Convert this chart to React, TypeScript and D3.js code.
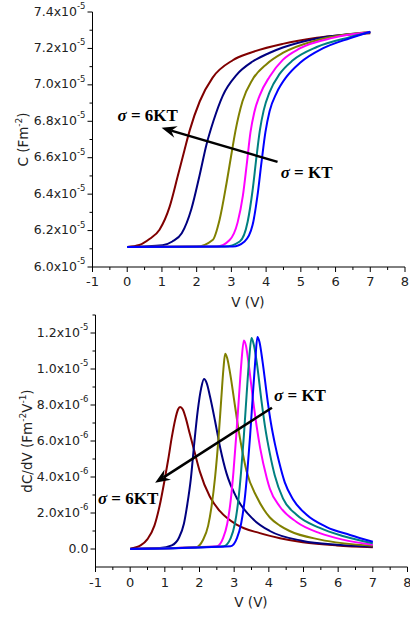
import React from "react";
import { scaleLinear, line, curveMonotoneX, range } from "d3";

// C-V curves, V in volts, C in units of 1e-5 F/m^2
const cvColors = ["#800000", "#000080", "#808000", "#ff00ff", "#008080", "#0000ff"];

const cv6kt: [number, number][] = [
  [0, 6.11], [0.35, 6.121], [0.65, 6.155], [0.93, 6.205], [1.22, 6.33], [1.45, 6.495],
  [1.65, 6.643], [1.8, 6.75], [2.09, 6.91], [2.46, 7.04], [3.04, 7.135], [3.53, 7.175],
  [4.48, 7.225], [5.46, 7.258], [7, 7.283],
];
const cv5kt: [number, number][] = [
  [0, 6.11], [1.02, 6.12], [1.3, 6.14], [1.57, 6.185], [1.85, 6.32], [2.08, 6.5],
  [2.28, 6.67], [2.48, 6.8], [2.75, 6.94], [3.15, 7.055], [3.61, 7.128], [4.09, 7.175],
  [4.48, 7.205], [5.46, 7.255], [7, 7.288],
];
const cv4kt: [number, number][] = [
  [0, 6.11], [2.0, 6.112], [2.46, 6.148], [2.66, 6.26], [2.86, 6.46], [3.01, 6.63],
  [3.12, 6.75], [3.32, 6.91], [3.61, 7.03], [4.02, 7.115], [4.48, 7.175], [5.46, 7.245],
  [7, 7.29],
];
const cv3kt: [number, number][] = [
  [0, 6.11], [2.58, 6.112], [2.95, 6.148], [3.18, 6.245], [3.33, 6.39], [3.44, 6.56],
  [3.55, 6.74], [3.66, 6.85], [3.81, 6.94], [4.1, 7.045], [4.48, 7.137], [4.97, 7.2],
  [5.92, 7.258], [7, 7.29],
];
const cv2kt: [number, number][] = [
  [0, 6.11], [2.81, 6.112], [3.24, 6.14], [3.47, 6.25], [3.61, 6.42], [3.72, 6.6],
  [3.82, 6.75], [3.93, 6.86], [4.1, 6.96], [4.39, 7.06], [4.77, 7.135], [5.46, 7.208],
  [6.41, 7.262], [7, 7.29],
];
const cv1kt: [number, number][] = [
  [0, 6.11], [3.04, 6.112], [3.38, 6.14], [3.61, 6.23], [3.75, 6.39], [3.87, 6.58],
  [3.98, 6.74], [4.1, 6.855], [4.3, 6.955], [4.59, 7.045], [4.97, 7.12], [5.63, 7.2],
  [6.41, 7.256], [7, 7.292],
];

// dC/dV curves, values in units of 1e-6
const dc6kt: [number, number][] = [
  [0, 0.02], [0.3, 0.2], [0.5, 0.55], [0.7, 1.3], [0.85, 2.4], [1.0, 3.9], [1.1, 5.0],
  [1.2, 6.2], [1.3, 7.2], [1.38, 7.75], [1.44, 7.89], [1.52, 7.75], [1.6, 7.3],
  [1.72, 6.4], [1.87, 5.3], [2.01, 4.3], [2.3, 2.9], [2.59, 2.1], [3.07, 1.35],
  [3.74, 0.88], [4.32, 0.6], [4.98, 0.38], [5.96, 0.2], [7, 0.1],
];
const dc5kt: [number, number][] = [
  [0, 0.02], [0.86, 0.05], [1.2, 0.2], [1.4, 0.6], [1.55, 1.4], [1.65, 2.5], [1.75, 3.9],
  [1.85, 5.9], [1.95, 7.7], [2.05, 8.95], [2.13, 9.44], [2.21, 9.2], [2.3, 8.5],
  [2.45, 7.1], [2.6, 5.6], [2.78, 4.2], [3.07, 2.85], [3.55, 1.65], [4.03, 1.0],
  [4.98, 0.45], [5.96, 0.24], [7, 0.14],
];
const dc4kt: [number, number][] = [
  [0, 0.0], [1.9, 0.1], [2.1, 0.5], [2.25, 1.3], [2.35, 2.4], [2.45, 4.0], [2.55, 6.2],
  [2.63, 8.4], [2.69, 10.0], [2.74, 10.85], [2.8, 10.6], [2.88, 9.8], [3.02, 8.0],
  [3.12, 6.7], [3.22, 5.6], [3.36, 4.3], [3.65, 2.9], [4.03, 1.75], [4.32, 1.3],
  [4.6, 1.0], [5.48, 0.52], [7, 0.18],
];
const dc3kt: [number, number][] = [
  [0, 0.0], [2.5, 0.15], [2.68, 0.6], [2.8, 1.4], [2.9, 2.7], [2.98, 4.3], [3.06, 6.3],
  [3.14, 8.5], [3.21, 10.4], [3.28, 11.59], [3.34, 11.3], [3.41, 10.4], [3.55, 8.2],
  [3.65, 6.8], [3.75, 5.6], [3.94, 3.95], [4.03, 3.35], [4.32, 2.35], [4.8, 1.5],
  [5.47, 0.88], [6.13, 0.52], [7, 0.24],
];
const dc2kt: [number, number][] = [
  [0, 0.0], [2.7, 0.15], [2.9, 0.6], [3.02, 1.4], [3.12, 2.7], [3.2, 4.3], [3.28, 6.3],
  [3.36, 8.6], [3.43, 10.5], [3.5, 11.72], [3.56, 11.4], [3.65, 10.4], [3.79, 8.2],
  [3.89, 6.8], [4.03, 5.3], [4.17, 4.1], [4.41, 2.8], [4.8, 1.9], [5.47, 1.17],
  [6.13, 0.72], [7, 0.32],
];
const dc1kt: [number, number][] = [
  [0, 0.0], [2.9, 0.15], [3.08, 0.6], [3.2, 1.4], [3.3, 2.7], [3.38, 4.3], [3.46, 6.3],
  [3.54, 8.6], [3.61, 10.5], [3.67, 11.78], [3.73, 11.5], [3.82, 10.4], [3.96, 8.3],
  [4.06, 7.0], [4.18, 5.8], [4.3, 4.8], [4.46, 3.7], [4.7, 2.75], [5.09, 1.9],
  [5.67, 1.22], [6.34, 0.78], [7, 0.4],
];

const cvSeries = [cv6kt, cv5kt, cv4kt, cv3kt, cv2kt, cv1kt];
const dcSeries = [dc6kt, dc5kt, dc4kt, dc3kt, dc2kt, dc1kt];

const xTicks = range(-1, 9);
const cvTicks = [6.0, 6.2, 6.4, 6.6, 6.8, 7.0, 7.2, 7.4];
const dcTicks = [0, 2, 4, 6, 8, 10, 12];

const FONT = "DejaVu Sans, sans-serif";
const SERIF = "Liberation Serif, Times New Roman, serif";

function Arrow({ x1, y1, x2, y2 }: { x1: number; y1: number; x2: number; y2: number }) {
  // line from (x1,y1) to tip (x2,y2), with stealth head
  const dx = x2 - x1, dy = y2 - y1;
  const len = Math.hypot(dx, dy);
  const ux = dx / len, uy = dy / len;
  const px = -uy, py = ux;
  const L = 15, W = 6, N = 5;
  const bx = x2 - ux * L, by = y2 - uy * L;
  const nx = x2 - ux * (L - N), ny = y2 - uy * (L - N);
  const head = `M${x2},${y2}L${bx + px * W},${by + py * W}L${nx},${ny}L${bx - px * W},${by - py * W}Z`;
  return (
    <g>
      <line x1={x1} y1={y1} x2={nx} y2={ny} stroke="#000" strokeWidth={2.5} />
      <path d={head} fill="#000" />
    </g>
  );
}

function SigmaLabel({ x, y, text }: { x: number; y: number; text: string }) {
  return (
    <text x={x} y={y} fontFamily={SERIF} fontWeight="bold" fontSize={17} fill="#000">
      <tspan fontStyle="italic">σ</tspan>
      <tspan> = {text}</tspan>
    </text>
  );
}

function Sci({ x, y, mant, exp }: { x: number; y: number; mant: string; exp?: string }) {
  return (
    <text x={x} y={y} textAnchor="end" fontFamily={FONT} fontSize={12.5} fill="#222" dominantBaseline="middle">
      {mant}
      {exp && (
        <tspan fontSize={8.5} dy={-6}>{exp}</tspan>
      )}
    </text>
  );
}

export default function App() {
  // top panel
  const x1 = scaleLinear().domain([-1, 8]).range([92.5, 405]);
  const y1 = scaleLinear().domain([6.0, 7.4]).range([267, 12]);
  // bottom panel
  const x2 = scaleLinear().domain([-1, 8]).range([95.5, 407.5]);
  const y2 = scaleLinear().domain([-1, 13]).range([567, 315]);

  const lineTop = line<[number, number]>()
    .x((d) => x1(d[0]))
    .y((d) => y1(d[1]))
    .curve(curveMonotoneX);
  const lineBot = line<[number, number]>()
    .x((d) => x2(d[0]))
    .y((d) => y2(d[1]))
    .curve(curveMonotoneX);

  const xMinor = range(-0.5, 8, 1);
  const cvMinor = range(6.1, 7.4, 0.2);
  const dcMinor = range(1, 14, 2);

  const dcLabel = (v: number) => {
    if (v === 0) return { mant: "0.0", exp: undefined };
    if (v < 10) return { mant: `${v.toFixed(1)}x10`, exp: "-6" };
    return { mant: `${(v / 10).toFixed(1)}x10`, exp: "-5" };
  };

  return (
    <svg width={410} height={617} style={{ position: "absolute", left: 0, top: 0 }}>
      <rect width={410} height={617} fill="#fff" />

      {/* ---------- top panel ---------- */}
      <g>
        {cvSeries.map((s, i) => (
          <path key={i} d={lineTop(s) || ""} fill="none" stroke={cvColors[i]} strokeWidth={2} />
        ))}
        <line x1={x1(-1)} x2={x1(8)} y1={267} y2={267} stroke="#000" />
        <line x1={x1(-1)} x2={x1(-1)} y1={y1(6.0)} y2={y1(7.4)} stroke="#000" />
        {xTicks.map((t) => (
          <g key={t}>
            <line x1={x1(t)} x2={x1(t)} y1={267} y2={272} stroke="#000" />
            <text x={x1(t)} y={282} textAnchor="middle" dominantBaseline="middle" fontFamily={FONT} fontSize={13} fill="#222">
              {t}
            </text>
          </g>
        ))}
        {xMinor.map((t) => (
          <line key={t} x1={x1(t)} x2={x1(t)} y1={267} y2={270} stroke="#000" />
        ))}
        {cvTicks.map((t) => (
          <g key={t}>
            <line x1={x1(-1) - 5} x2={x1(-1)} y1={y1(t)} y2={y1(t)} stroke="#000" />
            <Sci x={x1(-1) - 7} y={y1(t)} mant={`${t.toFixed(1)}x10`} exp="-5" />
          </g>
        ))}
        {cvMinor.map((t) => (
          <line key={t} x1={x1(-1) - 3} x2={x1(-1)} y1={y1(t)} y2={y1(t)} stroke="#000" />
        ))}
        <text x={248} y={303} textAnchor="middle" dominantBaseline="middle" fontFamily={FONT} fontSize={13.5} fill="#222">
          V (V)
        </text>
        <text
          transform={`translate(24,${(y1(6.0) + y1(7.4)) / 2}) rotate(-90)`}
          textAnchor="middle"
          dominantBaseline="middle"
          fontFamily={FONT}
          fontSize={13.5}
          fill="#222"
        >
          C (Fm<tspan fontSize={9} dy={-5}>-2</tspan>
          <tspan dy={5}>)</tspan>
        </text>
        <Arrow x1={x1(4.33)} y1={y1(6.577)} x2={x1(0.99)} y2={y1(6.764)} />
        <SigmaLabel x={x1(-0.28)} y={y1(6.8)} text="6KT" />
        <SigmaLabel x={x1(4.42)} y={y1(6.49)} text="KT" />
      </g>

      {/* ---------- bottom panel ---------- */}
      <g>
        {dcSeries.map((s, i) => (
          <path key={i} d={lineBot(s) || ""} fill="none" stroke={cvColors[i]} strokeWidth={2} />
        ))}
        <line x1={x2(-1)} x2={x2(8)} y1={y2(-1)} y2={y2(-1)} stroke="#000" />
        <line x1={x2(-1)} x2={x2(-1)} y1={y2(-1)} y2={y2(13)} stroke="#000" />
        {xTicks.map((t) => (
          <g key={t}>
            <line x1={x2(t)} x2={x2(t)} y1={y2(-1)} y2={y2(-1) + 5} stroke="#000" />
            <text x={x2(t)} y={583} textAnchor="middle" dominantBaseline="middle" fontFamily={FONT} fontSize={13} fill="#222">
              {t}
            </text>
          </g>
        ))}
        {xMinor.map((t) => (
          <line key={t} x1={x2(t)} x2={x2(t)} y1={y2(-1)} y2={y2(-1) + 3} stroke="#000" />
        ))}
        {dcTicks.map((t) => {
          const l = dcLabel(t);
          return (
            <g key={t}>
              <line x1={x2(-1) - 5} x2={x2(-1)} y1={y2(t)} y2={y2(t)} stroke="#000" />
              <Sci x={x2(-1) - 7} y={y2(t)} mant={l.mant} exp={l.exp} />
            </g>
          );
        })}
        {dcMinor.map((t) => (
          <line key={t} x1={x2(-1) - 3} x2={x2(-1)} y1={y2(t)} y2={y2(t)} stroke="#000" />
        ))}
        <text x={251} y={603} textAnchor="middle" dominantBaseline="middle" fontFamily={FONT} fontSize={13.5} fill="#222">
          V (V)
        </text>
        <text
          transform={`translate(28,${(y2(-1) + y2(13)) / 2}) rotate(-90)`}
          textAnchor="middle"
          dominantBaseline="middle"
          fontFamily={FONT}
          fontSize={13.5}
          fill="#222"
        >
          dC/dV (Fm<tspan fontSize={9} dy={-5}>-2</tspan>
          <tspan dy={5}>V</tspan>
          <tspan fontSize={9} dy={-5}>-1</tspan>
          <tspan dy={5}>)</tspan>
        </text>
        <Arrow x1={x2(4.09)} y1={y2(7.85)} x2={x2(0.72)} y2={y2(3.68)} />
        <SigmaLabel x={x2(4.15)} y={y2(8.24)} text="KT" />
        <SigmaLabel x={x2(-0.93)} y={y2(2.52)} text="6KT" />
      </g>
    </svg>
  );
}
